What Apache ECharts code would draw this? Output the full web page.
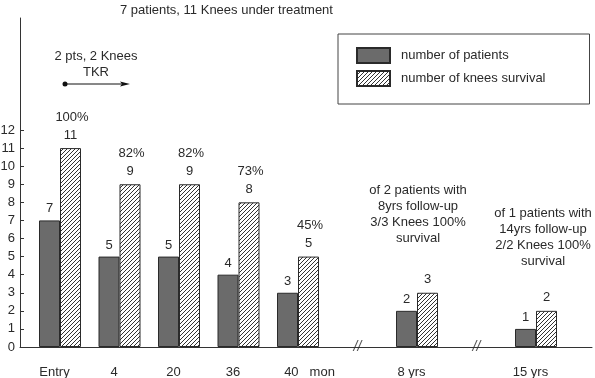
<!DOCTYPE html>
<html>
<head>
<meta charset="utf-8">
<script src="https://cdn.jsdelivr.net/npm/echarts@6/dist/echarts.min.js"></script>
<style>html,body{margin:0;padding:0;background:#fff;}#c{width:595px;height:378px;}</style>
</head>
<body>
<div id="c"></div>
<script>
var categories = ['Entry', '4', '20', '36', '40', '', '8 yrs', '', '15 yrs'];
var patients = [7, 5, 5, 4, 3, null, 2, null, 1];
var knees = [11, 9, 9, 8, 5, null, 3, null, 2];
var survivalPct = ['100%', '82%', '82%', '73%', '45%', '', '', '', ''];
var breakIdx = [5, 7];
var yTicks = [0, 1, 2, 3, 4, 5, 6, 7, 8, 9, 10, 11, 12];

var FONT = '"Liberation Sans", Arial, sans-serif';
var INK = '#2a2a2a';

// hatch pattern
var cv = document.createElement('canvas');
cv.width = 4; cv.height = 4;
var cx = cv.getContext('2d');
cx.fillStyle = '#ffffff'; cx.fillRect(0, 0, 4, 4);
cx.strokeStyle = '#333333'; cx.lineWidth = 1;
cx.beginPath();
cx.moveTo(0, 4); cx.lineTo(4, 0);
cx.moveTo(-1, 1); cx.lineTo(1, -1);
cx.moveTo(3, 5); cx.lineTo(5, 3);
cx.stroke();

var chart = echarts.init(document.getElementById('c'), null, {renderer: 'canvas'});

var option = {
  backgroundColor: '#ffffff',
  animation: false,
  title: {
    text: '7 patients, 11 Knees under treatment',
    left: 115, top: -1,
    textStyle: {fontFamily: FONT, fontSize: 13, fontWeight: 'normal', color: INK}
  },
  legend: {
    orient: 'vertical',
    left: 338, top: 34,
    padding: [13, 44, 17, 18],
    itemWidth: 33, itemHeight: 15, itemGap: 6,
    icon: 'rect',
    borderColor: '#444', borderWidth: 1,
    textStyle: {fontFamily: FONT, fontSize: 13, color: INK, padding: [0, 0, 0, 6]},
    data: ['number of patients', 'number of knees survival']
  },
  grid: [
    {left: 30.25, right: 29.25, top: 130, bottom: 31, containLabel: false, outerBoundsMode: 'none'},
    {left: 20, right: 3, top: 18, bottom: 31, containLabel: false, outerBoundsMode: 'none'}
  ],
  xAxis: [
    {
      type: 'category', gridIndex: 0, data: categories,
      axisLine: {show: false}, axisTick: {show: false},
      axisLabel: {
        margin: 19, fontFamily: FONT, fontSize: 13, color: INK, interval: 0,
        padding: [0, 11, 0, 0],
        formatter: function (v) { return v === '40' ? '{sp|}40{m|mon}' : v; },
        rich: {
          sp: {width: 34},
          m: {padding: [0, 0, 0, 11], fontFamily: FONT, fontSize: 13, color: INK}
        }
      }
    },
    {
      type: 'value', gridIndex: 1, min: 0, max: 1,
      axisLine: {show: true, lineStyle: {color: '#333', width: 1}},
      axisTick: {show: false}, axisLabel: {show: false}, splitLine: {show: false}
    }
  ],
  yAxis: [
    {
      type: 'value', gridIndex: 0, min: 0, max: 12, interval: 1, offset: 10.25,
      axisLine: {show: false},
      axisTick: {show: true, inside: true, length: 4, lineStyle: {color: '#333'}},
      axisLabel: {fontFamily: FONT, fontSize: 13, color: INK, margin: 5,
        formatter: function (v) { return yTicks.indexOf(v) >= 0 ? String(v) : ''; }},
      splitLine: {show: false}
    },
    {
      type: 'value', gridIndex: 1, min: 0, max: 18.2,
      axisLine: {show: true, lineStyle: {color: '#333', width: 1}},
      axisTick: {show: false}, axisLabel: {show: false}, splitLine: {show: false}
    }
  ],
  series: [
    {
      name: 'number of patients', type: 'bar', xAxisIndex: 0, yAxisIndex: 0,
      data: patients, barWidth: 21, barGap: '0%',
      itemStyle: {color: '#6b6b6b', borderColor: '#2a2a2a', borderWidth: 1},
      label: {show: true, position: 'top', distance: 5, fontFamily: FONT, fontSize: 13, color: INK}
    },
    {
      name: 'number of knees survival', type: 'bar', xAxisIndex: 0, yAxisIndex: 0,
      data: knees, barWidth: 21, barGap: '0%',
      itemStyle: {color: {image: cv, repeat: 'repeat'}, borderColor: '#2a2a2a', borderWidth: 1},
      label: {
        show: true, position: 'top', distance: 5, fontFamily: FONT, fontSize: 13, color: INK,
        formatter: function (p) {
          var pct = survivalPct[p.dataIndex];
          return pct ? '{p|' + pct + '}\n{v|' + p.value + '}' : '{v|' + p.value + '}';
        },
        rich: {
          p: {fontFamily: FONT, fontSize: 13, color: INK, lineHeight: 20, padding: [0, 0, 0, 3]},
          v: {fontFamily: FONT, fontSize: 13, color: INK, lineHeight: 16}
        }
      }
    },
    {
      type: 'scatter', xAxisIndex: 0, yAxisIndex: 0, clip: false,
      symbolSize: 0, silent: true,
      data: breakIdx.map(function (i) { return [i, 0]; }),
      label: {show: true, position: 'inside', formatter: '//', fontFamily: FONT,
        fontSize: 14, fontStyle: 'italic', color: INK}
    }
  ],
  graphic: [
    {type: 'text', x: 96, y: 48, style: {
      text: '2 pts, 2 Knees\nTKR', textAlign: 'center', font: '13px ' + FONT, fill: INK, lineHeight: 16}},
    {type: 'circle', shape: {cx: 65, cy: 84, r: 2.5}, style: {fill: '#111'}},
    {type: 'line', shape: {x1: 65, y1: 84, x2: 124, y2: 84}, style: {stroke: '#111', lineWidth: 1}},
    {type: 'polygon', shape: {points: [[130, 84], [120, 81.5], [122, 84], [120, 86.5]]}, style: {fill: '#111'}},
    {type: 'text', x: 418, y: 182, style: {
      text: 'of 2 patients with\n8yrs follow-up\n3/3 Knees 100%\nsurvival', textAlign: 'center',
      font: '13px ' + FONT, fill: INK, lineHeight: 16}},
    {type: 'text', x: 543, y: 205, style: {
      text: 'of 1 patients with\n14yrs follow-up\n2/2 Knees 100%\nsurvival', textAlign: 'center',
      font: '13px ' + FONT, fill: INK, lineHeight: 16}}
  ]
};
chart.setOption(option);
</script>
</body>
</html>
